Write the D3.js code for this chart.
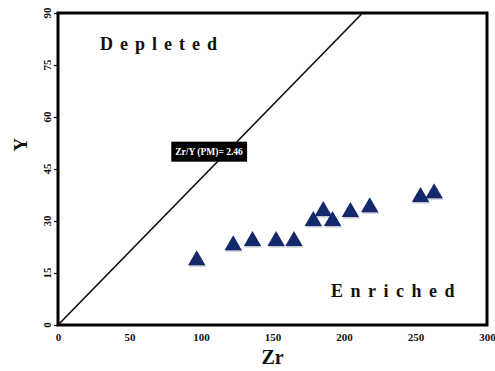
<!DOCTYPE html>
<html>
<head>
<meta charset="utf-8">
<script src="https://cdn.jsdelivr.net/npm/d3@7"></script>
<style>
  body { margin: 0; background: #fff; }
  text { font-family: "Liberation Serif", "DejaVu Serif", serif; font-weight: bold; }
</style>
</head>
<body>
<svg id="chart" width="495" height="371"></svg>
<script>
// samples
const zr = [97, 122.5, 136, 152.5, 165, 178.5, 185.5, 192, 204.5, 218, 253.5, 263]
const yv = [18.7, 23, 24.2, 24.2, 24.2, 30, 32.9, 30, 32.6, 34, 36.9, 38]
const xTicks = [0, 50, 100, 150, 200, 250, 300]
const yTicks = [0, 15, 30, 45, 60, 75, 90]
// reference line drawn from origin to where it leaves the top of the frame
const refLine = [[0, 0], [213, 90]]
const refLabel = 'Zr/Y (PM)= 2.46'

const width = 495, height = 371
const margin = { top: 13, right: 8, bottom: 46, left: 58 }

const svg = d3.select('#chart')
const x = d3.scaleLinear().domain([0, 300]).range([margin.left, width - margin.right])
const y = d3.scaleLinear().domain([0, 90]).range([height - margin.bottom, margin.top])

// y axis: ticks from d3, labels rotated by hand
const yAxis = svg.append('g')
    .attr('transform', `translate(${margin.left},0)`)
    .call(d3.axisLeft(y).tickValues(yTicks).tickSize(4).tickFormat(''))
yAxis.select('.domain').remove()
yAxis.selectAll('line').attr('stroke', '#000').attr('stroke-width', 1.2)
svg.append('g').selectAll('text')
    .data(yTicks).join('text')
    .attr('transform', d => `translate(${margin.left - 7},${y(d)}) rotate(-90)`)
    .attr('text-anchor', 'middle')
    .attr('font-size', 11).attr('fill', '#111')
    .text(d => d)

// x axis labels
const xAxis = svg.append('g')
    .attr('transform', `translate(0,${height - margin.bottom})`)
    .call(d3.axisBottom(x).tickValues(xTicks).tickSize(0).tickFormat(d3.format('d')))
xAxis.select('.domain').remove()
xAxis.selectAll('text')
    .attr('font-size', 11)
    .attr('font-family', '"Liberation Serif", serif')
    .attr('font-weight', 'bold')
    .attr('fill', '#111')
    .attr('y', 8)

// frame
svg.append('rect')
    .attr('x', x(0)).attr('y', y(90))
    .attr('width', x(300) - x(0)).attr('height', y(0) - y(90))
    .attr('fill', 'none').attr('stroke', '#000').attr('stroke-width', 3)

// reference line
svg.append('line')
    .attr('x1', x(refLine[0][0])).attr('y1', y(refLine[0][1]))
    .attr('x2', x(refLine[1][0])).attr('y2', y(refLine[1][1]))
    .attr('stroke', '#111').attr('stroke-width', 1.7)

// label box on the line
const lbl = svg.append('g').attr('transform', `translate(${x(82)},${y(50)})`)
const lt = lbl.append('text')
    .attr('fill', '#fff').attr('font-size', 9.5)
    .attr('dy', '0.35em')
    .text(refLabel)
const bb = lt.node().getBBox()
lbl.insert('rect', 'text')
    .attr('x', bb.x - 4).attr('y', -10)
    .attr('width', bb.width + 8).attr('height', 20)
    .attr('fill', '#000')

// region labels
svg.append('text').attr('x', 100).attr('y', 50)
    .attr('font-size', 18).attr('letter-spacing', 7).attr('fill', '#111')
    .text('Depleted')
svg.append('text').attr('x', 331).attr('y', 297)
    .attr('font-size', 18).attr('letter-spacing', 7.5).attr('fill', '#111')
    .text('Enriched')

// axis titles
svg.append('text').attr('x', x(150)).attr('y', 364)
    .attr('text-anchor', 'middle').attr('font-size', 20).attr('fill', '#111')
    .text('Zr')
svg.append('text')
    .attr('transform', `translate(27,${y(52)}) rotate(-90)`)
    .attr('text-anchor', 'middle').attr('font-size', 19).attr('fill', '#111')
    .text('Y')

// triangles
const tri = d3.symbol().type(d3.symbolTriangle).size(130)
const pts = zr.map((d, i) => ({ zr: d, y: yv[i] }))
svg.append('g').selectAll('path.shadow')
    .data(pts).join('path')
    .attr('d', tri)
    .attr('transform', d => `translate(${x(d.zr) + 0.8},${y(d.y) + 1.5})`)
    .attr('fill', '#9aa0ad').attr('opacity', 0.6)
svg.append('g').selectAll('path')
    .data(pts).join('path')
    .attr('d', tri)
    .attr('transform', d => `translate(${x(d.zr)},${y(d.y)})`)
    .attr('fill', '#14296b')
</script>
</body>
</html>
